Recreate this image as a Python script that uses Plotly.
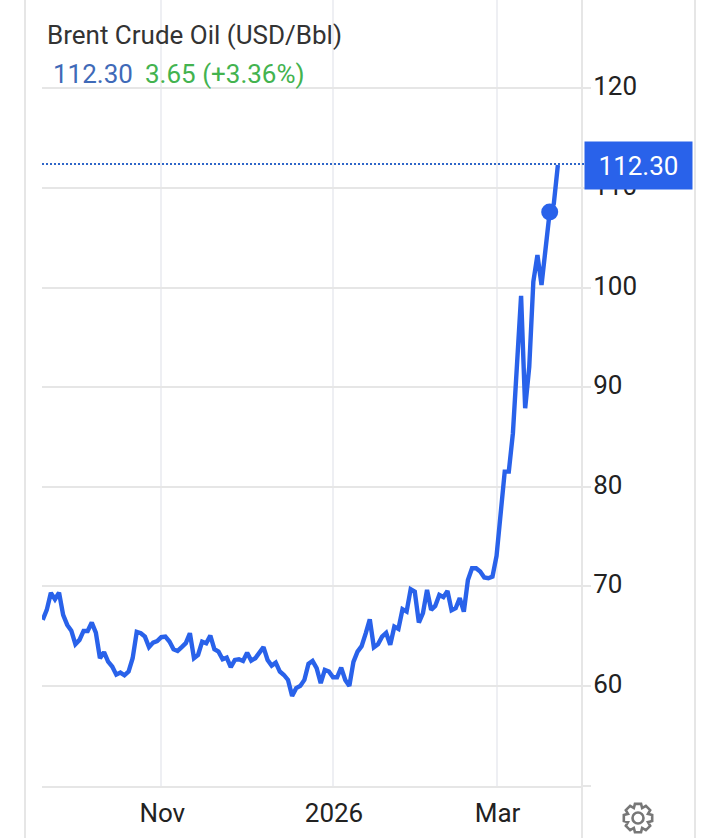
import math
import plotly.graph_objects as go

W, H = 720, 838

dates = [
    "2025-09-23","2025-09-24","2025-09-25","2025-09-26","2025-09-29","2025-09-30",
    "2025-10-01","2025-10-02","2025-10-03","2025-10-06","2025-10-07","2025-10-08","2025-10-09","2025-10-10",
    "2025-10-13","2025-10-14","2025-10-15","2025-10-16","2025-10-17","2025-10-20","2025-10-21","2025-10-22",
    "2025-10-23","2025-10-24","2025-10-27","2025-10-28","2025-10-29","2025-10-30","2025-10-31",
    "2025-11-03","2025-11-04","2025-11-05","2025-11-06","2025-11-07","2025-11-10","2025-11-11","2025-11-12",
    "2025-11-13","2025-11-14","2025-11-17","2025-11-18","2025-11-19","2025-11-20","2025-11-21","2025-11-24",
    "2025-11-25","2025-11-26","2025-11-27","2025-11-28",
    "2025-12-01","2025-12-02","2025-12-03","2025-12-04","2025-12-05","2025-12-08","2025-12-09","2025-12-10",
    "2025-12-11","2025-12-12","2025-12-15","2025-12-16","2025-12-17","2025-12-18","2025-12-19","2025-12-22",
    "2025-12-23","2025-12-24","2025-12-26","2025-12-29","2025-12-30","2025-12-31",
    "2026-01-02","2026-01-05","2026-01-06","2026-01-07","2026-01-08","2026-01-09","2026-01-12","2026-01-13",
    "2026-01-14","2026-01-15","2026-01-16","2026-01-20","2026-01-21","2026-01-22","2026-01-23","2026-01-26",
    "2026-01-27","2026-01-28","2026-01-29","2026-01-30",
    "2026-02-02","2026-02-03","2026-02-04","2026-02-05","2026-02-06","2026-02-09","2026-02-10","2026-02-11",
    "2026-02-12","2026-02-13","2026-02-16","2026-02-17","2026-02-18","2026-02-19","2026-02-20","2026-02-23",
    "2026-02-24","2026-02-25","2026-02-26","2026-02-27",
    "2026-03-02","2026-03-03","2026-03-04","2026-03-05","2026-03-06","2026-03-09","2026-03-10","2026-03-11",
    "2026-03-12","2026-03-13","2026-03-16","2026-03-17","2026-03-18","2026-03-19","2026-03-20","2026-03-23",
]

brent = [
    66.63,67.63,69.34,68.70,69.37,67.13,66.12,65.55,64.19,64.62,
    65.52,65.52,66.36,65.35,62.78,63.38,62.44,61.94,61.13,61.34,
    61.07,61.44,62.78,65.42,65.29,64.95,63.89,64.35,64.49,64.89,
    64.95,64.45,63.68,63.51,63.89,64.29,65.29,62.78,63.11,64.45,
    64.29,65.05,63.68,63.44,62.68,62.84,61.88,62.61,62.68,62.51,
    63.34,62.54,62.78,63.31,63.89,62.61,62.04,62.34,61.44,61.10,
    60.60,59.00,59.77,60.00,60.60,62.21,62.51,61.78,60.27,61.61,
    61.44,60.87,60.87,61.84,60.60,60.00,62.41,63.44,63.99,65.28,
    66.68,63.87,64.17,64.95,65.32,64.12,65.95,65.72,67.70,67.46,
    69.71,69.47,66.36,67.30,69.64,67.63,68.03,69.14,68.91,69.54,
    67.60,67.80,68.81,67.46,70.64,71.82,71.82,71.48,70.89,70.81,
    70.97,73.05,77.67,81.52,81.52,85.37,92.27,99.16,87.88,92.06,
    100.59,103.27,100.26,103.97,107.59,108.40,112.30,
]

marker_date = ["2026-03-19"]
marker_value = [107.59]
last_value = 112.30

x_tick_dates = ["2025-11-03", "2026-01-02", "2026-03-02"]
x_tick_labels = ["Nov", "2026", "Mar"]
y_tick_values = [50, 60, 70, 80, 90, 100, 110, 120]
y_tick_labels = ["", "60", "70", "80", "90", "100", "110", "120"]

BLUE = "#2962ea"
GRID = "#e6e6e6"
VGRID = "#eeeff3"
FONT = "Roboto"


def px(x):
    return x / W


def py(y):
    return 1 - y / H


def vline(x, y0, y1, color=GRID, width=2):
    return dict(type="line", xref="paper", yref="paper", x0=px(x), x1=px(x), y0=py(y0), y1=py(y1),
                line=dict(color=color, width=width), layer="below")


def gear_path(cx, cy, r_out, r_in, teeth=8):
    pts = []
    step = 2 * math.pi / teeth
    for k in range(teeth):
        a = k * step - math.pi / 2
        for da, r in ((-0.5, r_in), (-0.27, r_out), (0.27, r_out), (0.5, r_in)):
            t = a + da * step
            pts.append((cx + r * math.cos(t), cy + r * math.sin(t)))
    s = "M " + " L ".join(f"{px(a):.5f},{py(b):.5f}" for a, b in pts) + " Z"
    return s


fig = go.Figure()
fig.add_trace(go.Scatter(x=dates, y=brent, mode="lines",
                         line=dict(color=BLUE, width=4.4), hoverinfo="skip"))
fig.add_trace(go.Scatter(x=marker_date, y=marker_value, mode="markers",
                         marker=dict(color=BLUE, size=17), hoverinfo="skip"))

fig.update_layout(
    width=W, height=H, autosize=False,
    margin=dict(l=0, r=0, t=0, b=0),
    paper_bgcolor="white", plot_bgcolor="white",
    showlegend=False,
    font=dict(family=FONT, size=26, color="#222222"),
    xaxis=dict(type="category", domain=[px(42), px(582)], range=[-0.17, 131.9],
               tickmode="array", tickvals=x_tick_dates, ticktext=x_tick_labels,
               showgrid=True, gridcolor=VGRID, gridwidth=2,
               ticks="outside", ticklen=3, tickcolor="rgba(0,0,0,0)",
               ticklabelshift=1,
               showline=True, linecolor=GRID, linewidth=2,
               tickfont=dict(family=FONT, size=26, color="#222222"), zeroline=False),
    yaxis=dict(side="right", domain=[py(785.5), 1], range=[50, 128.87],
               tickmode="array", tickvals=y_tick_values, ticktext=y_tick_labels,
               showgrid=True, gridcolor=GRID, gridwidth=2,
               ticks="outside", ticklen=8, tickcolor=GRID, tickwidth=2,
               ticklabelstandoff=-3, ticklabelshift=-2,
               showline=False, zeroline=False,
               tickfont=dict(family=FONT, size=26, color="#222222")),
    shapes=[
        vline(25, 0, H), vline(695, 0, H), vline(582, 0, H),
        dict(type="line", xref="paper", yref="y", x0=px(42), x1=px(584), y0=last_value + 0.1, y1=last_value + 0.1,
             line=dict(color="#2f66c8", width=2, dash="2px,2px"), layer="above"),
        dict(type="path", xref="paper", yref="paper", path=gear_path(638, 818, 14.5, 10.8),
             line=dict(color="#777777", width=2.6), fillcolor="rgba(0,0,0,0)"),
        dict(type="circle", xref="paper", yref="paper",
             x0=px(632.5), x1=px(643.5), y0=py(812.5), y1=py(823.5),
             line=dict(color="#777777", width=2.6), fillcolor="rgba(0,0,0,0)"),
    ],
    annotations=[
        dict(text="Brent Crude Oil (USD/Bbl)", xref="paper", yref="paper", x=px(45), y=py(35),
             xanchor="left", yanchor="middle", showarrow=False,
             font=dict(family=FONT, size=26, color="#333333")),
        dict(text="112.30", xref="paper", yref="paper", x=px(51), y=py(74),
             xanchor="left", yanchor="middle", showarrow=False,
             font=dict(family=FONT, size=26, color="#3f6ab8")),
        dict(text="3.65 (+3.36%)", xref="paper", yref="paper", x=px(143), y=py(74),
             xanchor="left", yanchor="middle", showarrow=False,
             font=dict(family=FONT, size=26, color="#43b34f")),
        dict(text="112.30", xref="paper", yref="paper", x=px(584), y=py(165.5),
             xanchor="left", yanchor="middle", showarrow=False, width=107, height=47,
             bgcolor=BLUE, borderpad=0, align="center",
             font=dict(family=FONT, size=26, color="white")),
    ],
)

fig.write_html("out.html", config=dict(displayModeBar=False),
               post_script="document.body.style.margin='0';document.body.style.overflow='hidden';")
